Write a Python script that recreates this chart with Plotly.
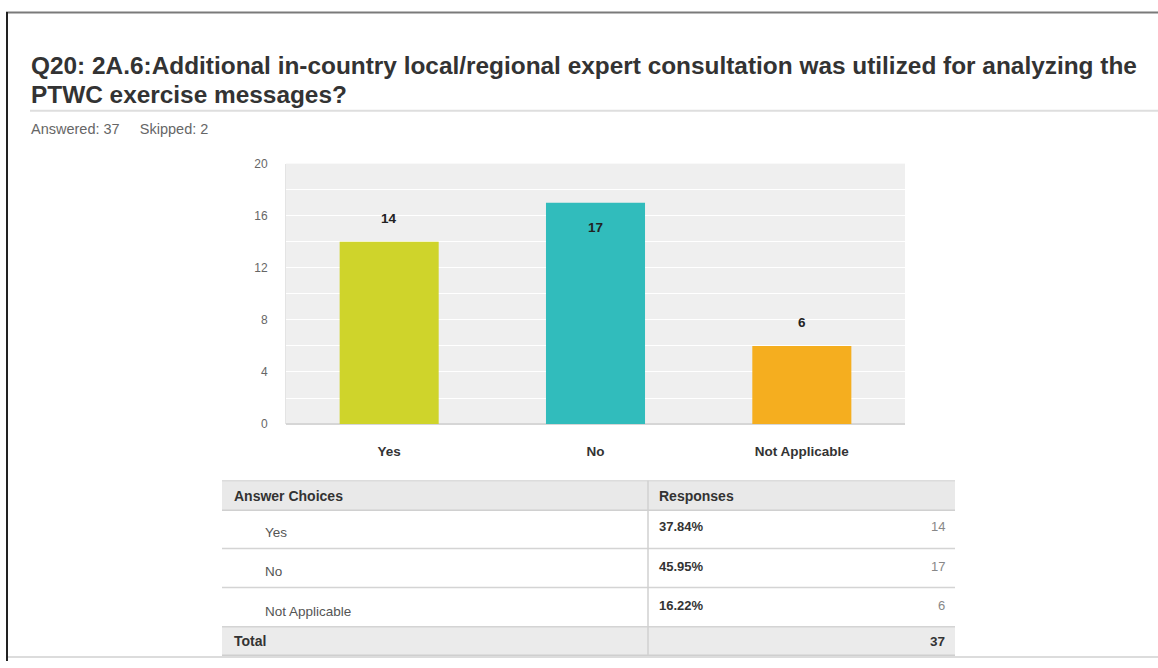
import plotly.graph_objects as go

# ---- survey data ----
choices = ["Yes", "No", "Not Applicable"]
counts = [14, 17, 6]
bar_colors = ["#cfd42b", "#31bcbc", "#f5ae1f"]
y_ticks = [0, 4, 8, 12, 16, 20]

title_lines = [
    "Q20: 2A.6:Additional in-country local/regional expert consultation was utilized for analyzing the",
    "PTWC exercise messages?",
]
answered = 37
skipped = 2

W, H = 1158, 668
FONT = "Liberation Sans, Arial, sans-serif"


def px(x):
    return x / W


def py(y):
    return 1 - y / H


fig = go.Figure()
fig.add_trace(go.Bar(
    x=choices, y=counts, marker=dict(color=bar_colors, line=dict(width=0)),
    hoverinfo="x+y",
))

annotations = []
shapes = []

# value labels over the bars (tallest bar carries its label inside)
top = max(counts)
for c, v in zip(choices, counts):
    annotations.append(dict(
        x=c, y=v, xref="x", yref="y", text=f"<b>{v}</b>", showarrow=False,
        yshift=-25 if v == top else 23, yanchor="middle",
        font=dict(family=FONT, size=13.5, color="#222"),
    ))

# title block (two lines, tight leading)
for i, line in enumerate(title_lines):
    annotations.append(dict(
        x=px(29), y=py(60 + 29 * i), xref="paper", yref="paper", xanchor="left", yanchor="middle",
        text=f"<b>{line}</b>", showarrow=False, align="left",
        font=dict(family=FONT, size=24.4, color="#333"),
    ))
annotations.append(dict(
    x=px(29), y=py(125), xref="paper", yref="paper", xanchor="left", yanchor="middle",
    text=f"Answered: {answered}" + "&nbsp;" * 5 + f"Skipped: {skipped}", showarrow=False,
    font=dict(family=FONT, size=14.5, color="#666"),
))

# page frame and title separator
shapes += [
    dict(type="line", xref="paper", yref="paper", x0=px(6), x1=px(1158), y0=py(5.5), y1=py(5.5),
         line=dict(color="#7a7a7a", width=2)),
    dict(type="line", xref="paper", yref="paper", x0=px(7), x1=px(7), y0=py(5), y1=py(668),
         line=dict(color="#222", width=2)),
    dict(type="line", xref="paper", yref="paper", x0=px(8), x1=px(1158), y0=py(664), y1=py(664),
         line=dict(color="#dcdcdc", width=2)),
    dict(type="line", xref="paper", yref="paper", x0=px(30), x1=px(1158), y0=py(106), y1=py(106),
         line=dict(color="#dedede", width=2)),
]

# ---- response table ----
tbl_left, tbl_div, tbl_right = 222, 648, 955
head_top, head_bot = 484, 514
row_h = 40
total_top, total_bot = 633, 662
total = sum(counts)

shapes.append(dict(type="rect", xref="paper", yref="paper", x0=px(tbl_left), x1=px(tbl_right),
                   y0=py(head_top), y1=py(head_bot), fillcolor="#e9e9e9", line=dict(width=0), layer="below"))
shapes.append(dict(type="rect", xref="paper", yref="paper", x0=px(tbl_left), x1=px(tbl_right),
                   y0=py(total_top), y1=py(total_bot), fillcolor="#ebebeb", line=dict(width=0), layer="below"))
for yy, col in [(head_top, "#dcdcdc"), (head_bot, "#d0d0d0"), (head_bot + row_h - 1, "#d4d4d4"),
                (head_bot + 2 * row_h - 1, "#d4d4d4"), (total_top, "#d4d4d4"), (total_bot, "#cfcfcf")]:
    shapes.append(dict(type="line", xref="paper", yref="paper", x0=px(tbl_left), x1=px(tbl_right),
                       y0=py(yy), y1=py(yy), line=dict(color=col, width=1.5)))
shapes.append(dict(type="line", xref="paper", yref="paper", x0=px(tbl_div), x1=px(tbl_div),
                   y0=py(head_top), y1=py(total_bot), line=dict(color="#d0d0d0", width=1.5)))


def cell(x, y, text, anchor="left", size=12, color="#333"):
    annotations.append(dict(x=px(x), y=py(y), xref="paper", yref="paper", xanchor=anchor,
                            yanchor="middle", text=text, showarrow=False,
                            font=dict(family=FONT, size=size, color=color)))


cell(232, 499, "<b>Answer Choices</b>", size=14, color="#333")
cell(657, 499, "<b>Responses</b>", size=14, color="#333")
for i, (c, v) in enumerate(zip(choices, counts)):
    r0 = head_bot + i * row_h
    cell(263, r0 + 23, c, size=13.5, color="#555")
    cell(657, r0 + 17, f"<b>{v / total * 100:.2f}%</b>", size=13, color="#333")
    cell(947, r0 + 17, str(v), anchor="right", size=13, color="#888")
cell(232, 648, "<b>Total</b>", size=14, color="#333")
cell(947, 648, f"<b>{total}</b>", anchor="right", size=13.5, color="#333")

fig.update_layout(
    width=W, height=H, margin=dict(l=0, r=0, t=0, b=0),
    paper_bgcolor="white", plot_bgcolor="#efefef",
    showlegend=False, bargap=0.52,
    annotations=annotations, shapes=shapes,
    xaxis=dict(domain=[px(286), px(905)], showgrid=False, zeroline=False,
               showline=False, ticks="", ticklabelstandoff=17,
               tickfont=dict(family=FONT, size=13.5, color="#333"),
               tickvals=choices, ticktext=[f"<b>{c}</b>" for c in choices], fixedrange=True),
    yaxis=dict(domain=[py(426), py(160)], range=[0, 20], tickvals=y_ticks,
               showgrid=True, gridcolor="white", gridwidth=1,
               minor=dict(dtick=2, showgrid=True, gridcolor="white", gridwidth=1),
               zeroline=True, zerolinecolor="#d6d6d6", zerolinewidth=2,
               showline=True, linecolor="#e4e4e4", linewidth=1,
               ticks="", ticklabelstandoff=15,
               tickfont=dict(family=FONT, size=12, color="#666"), fixedrange=True),
)

fig.write_html("out.html")
